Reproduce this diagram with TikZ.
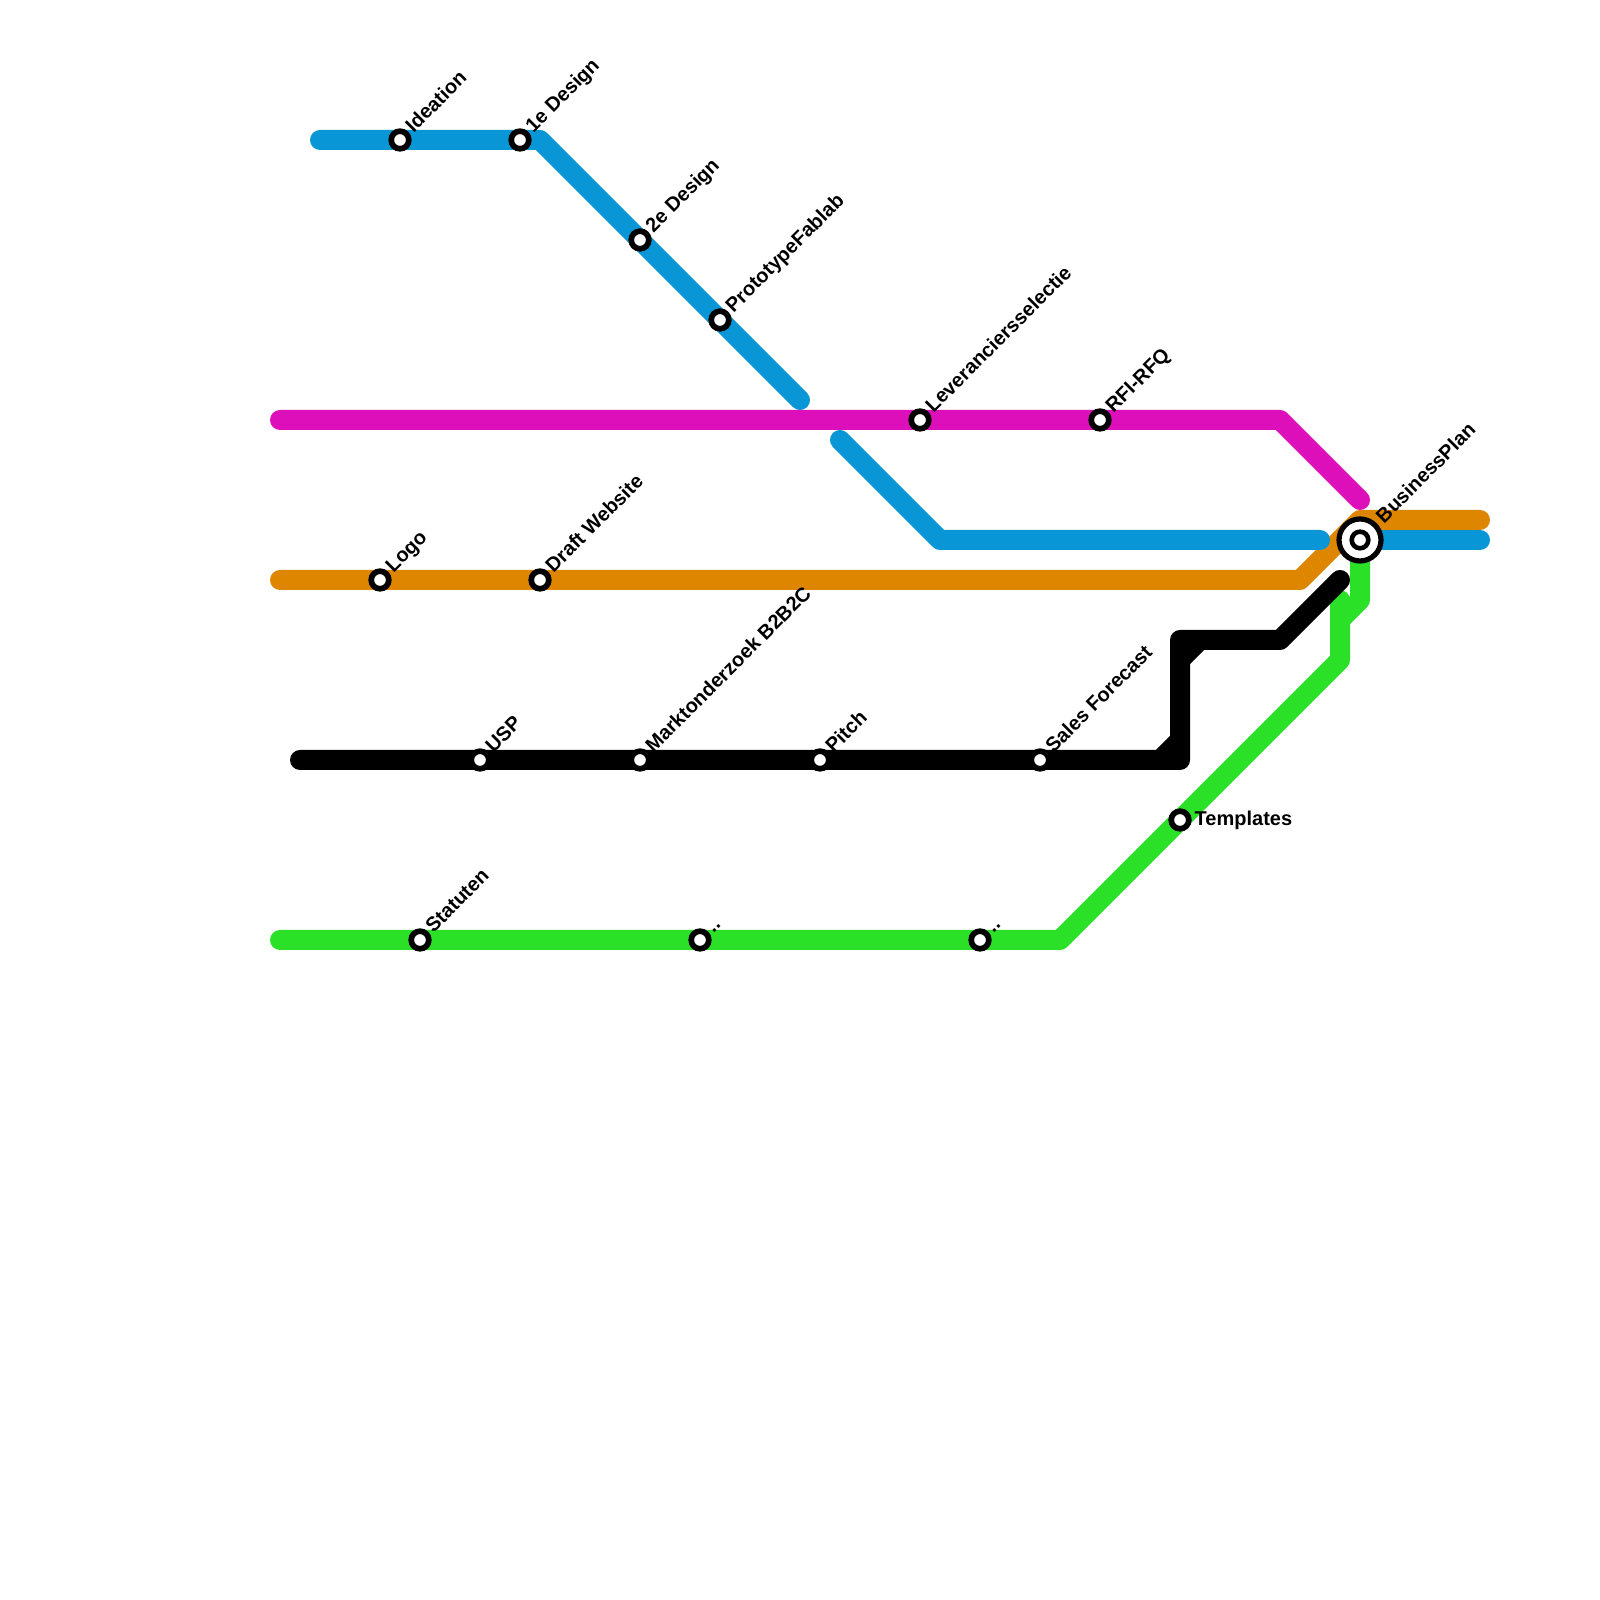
\documentclass[tikz,border=0pt]{standalone}
\usepackage{fontspec}
\setmainfont{Liberation Sans}
\definecolor{lineblue}{HTML}{0896D7}
\definecolor{linemagenta}{HTML}{DD0FBB}
\definecolor{lineorange}{HTML}{DF8600}
\definecolor{linegreen}{HTML}{2BE127}
\tikzset{
  metroline/.style={line width=0.2cm, line cap=round, line join=round},
  station/.style={circle, draw=black, fill=white, line width=0.057cm, inner sep=0pt, outer sep=0pt, minimum size=0.176cm},
  hubring/.style={circle, draw=black, fill=white, line width=0.052cm, inner sep=0pt, outer sep=0pt, minimum size=0.42cm},
  hubdot/.style={circle, draw=black, fill=white, line width=0.046cm, inner sep=0pt, outer sep=0pt, minimum size=0.166cm},
  namelabel/.style={inner sep=0pt, anchor=mid west, rotate=45, font=\fontsize{5.69}{6.8}\selectfont\bfseries},
  flatlabel/.style={inner sep=0pt, anchor=mid west, font=\fontsize{5.69}{6.8}\selectfont\bfseries}
}
\begin{document}
\begin{tikzpicture}
\useasboundingbox (0,0) rectangle (16,16);

% Drawing line green
\draw [metroline, linegreen] (2.8,6.6) -- (10.6,6.6) -- (13.4,9.4) -- (13.4,10);
\draw [metroline, linegreen] (13.6,10.6) -- (13.6,10) -- (13.4,9.8);

% Drawing line orange
\draw [metroline, lineorange] (2.8,10.2) -- (13,10.2) -- (13.6,10.8) -- (14.8,10.8);

% Drawing line blue
\draw [metroline, lineblue] (3.2,14.6) -- (5.4,14.6) -- (8,12);
\draw [metroline, lineblue] (8.4,11.6) -- (9.4,10.6) -- (13.2,10.6);
\draw [metroline, lineblue] (13.6,10.6) -- (14.8,10.6);

% Drawing line magenta
\draw [metroline, linemagenta] (2.8,11.8) -- (12.8,11.8) -- (13.6,11);

% Drawing line black
\draw [metroline, black] (3,8.4) -- (11.8,8.4) -- (11.8,9.6) -- (12.8,9.6) -- (13.4,10.2);
\draw [metroline, black] (11.6,8.4) -- (11.8,8.6);
\draw [metroline, black] (11.8,9.4) -- (12,9.6);

% Marking station Ideation
\node (ideation) [station] at (4,14.6) {};
\node [namelabel] at ([shift={(0.065,0.125)}]ideation.center) {Ideation};

% Marking station 1e Design
\node (design1) [station] at (5.2,14.6) {};
\node [namelabel] at ([shift={(0.065,0.125)}]design1.center) {1e Design};

% Marking station 2e Design
\node (design2) [station] at (6.4,13.6) {};
\node [namelabel] at ([shift={(0.065,0.125)}]design2.center) {2e Design};

% Marking station PrototypeFablab
\node (fablab) [station] at (7.2,12.8) {};
\node [namelabel] at ([shift={(0.065,0.125)}]fablab.center) {PrototypeFablab};

% Marking station Leveranciersselectie
\node (selectie) [station] at (9.2,11.8) {};
\node [namelabel] at ([shift={(0.065,0.125)}]selectie.center) {Leveranciersselectie};

% Marking station RFI-RFQ
\node (rfq) [station] at (11,11.8) {};
\node [namelabel] at ([shift={(0.065,0.125)}]rfq.center) {RFI-RFQ};

% Marking station Logo
\node (logo) [station] at (3.8,10.2) {};
\node [namelabel] at ([shift={(0.065,0.125)}]logo.center) {Logo};

% Marking station Draft Website
\node (website) [station] at (5.4,10.2) {};
\node [namelabel] at ([shift={(0.065,0.125)}]website.center) {Draft Website};

% Marking station USP
\node (usp) [station] at (4.8,8.4) {};
\node [namelabel] at ([shift={(0.065,0.125)}]usp.center) {USP};

% Marking station Marktonderzoek B2B2C
\node (markt) [station] at (6.4,8.4) {};
\node [namelabel] at ([shift={(0.065,0.125)}]markt.center) {Marktonderzoek B2B2C};

% Marking station Pitch
\node (pitch) [station] at (8.2,8.4) {};
\node [namelabel] at ([shift={(0.065,0.125)}]pitch.center) {Pitch};

% Marking station Sales Forecast
\node (sales) [station] at (10.4,8.4) {};
\node [namelabel] at ([shift={(0.065,0.125)}]sales.center) {Sales Forecast};

% Marking station Templates
\node (templates) [station] at (11.8,7.8) {};
\node [flatlabel] at ([shift={(0.14,0.04)}]templates.center) {Templates};

% Marking station Statuten
\node (statuten) [station] at (4.2,6.6) {};
\node [namelabel] at ([shift={(0.065,0.125)}]statuten.center) {Statuten};

% Marking unnamed stations
\node (dotsa) [station] at (7,6.6) {};
\node [namelabel] at ([shift={(0.065,0.125)}]dotsa.center) {..};
\node (dotsb) [station] at (9.8,6.6) {};
\node [namelabel] at ([shift={(0.065,0.125)}]dotsb.center) {..};

% Marking hub BusinessPlan
\node (plan) [hubring] at (13.6,10.6) {};
\node [hubdot] at (plan.center) {};
\node [namelabel] at ([shift={(0.17,0.22)}]plan.center) {BusinessPlan};
\end{tikzpicture}
\end{document}
